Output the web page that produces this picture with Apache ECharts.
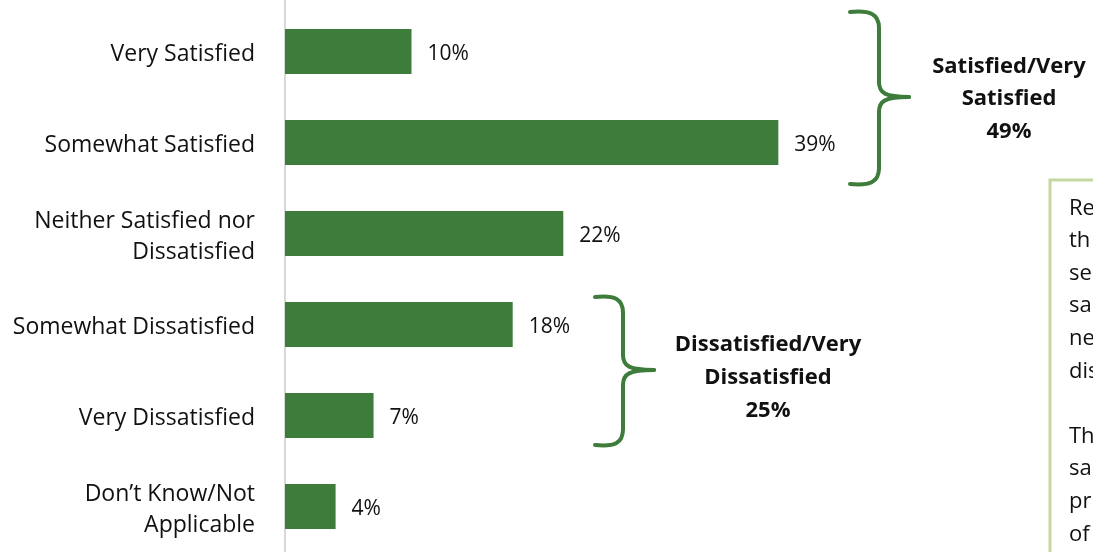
<!DOCTYPE html>
<html><head><meta charset="utf-8">
<script src="https://cdn.jsdelivr.net/npm/echarts@6/dist/echarts.min.js"></script>
<style>html,body{margin:0;padding:0;background:#fff}#c{width:1093px;height:552px}</style>
</head><body><div id="c"></div>
<script>
const categories = ['Very Satisfied', 'Somewhat Satisfied', 'Neither Satisfied nor\nDissatisfied', 'Somewhat Dissatisfied', 'Very Dissatisfied', 'Don\u2019t Know/Not\nApplicable'];
const values = [10, 39, 22, 18, 7, 4];
const groupLabels = ['Satisfied/Very\nSatisfied\n49%', 'Dissatisfied/Very\nDissatisfied\n25%'];
const noteLines = ['Re', 'th', 'se', 'sa', 'ne', 'dis', '', 'Th', 'sa', 'pr', 'of'];

const FONT = 'Open Sans';
const GREEN = '#3d7c3b';

function brace(x0, xv, xt, yTop, yMid, yBot) {
  const st = {stroke: GREEN, lineWidth: 4, fill: null, lineCap: 'round'};
  const r = 16;
  const segs = [
    {type: 'bezierCurve', shape: {x1: x0, y1: yTop, cpx1: x0 + 20, cpy1: yTop - 2, cpx2: xv, cpy2: yTop + 2, x2: xv, y2: yTop + r}},
    {type: 'line', shape: {x1: xv, y1: yTop + r, x2: xv, y2: yMid - r + 1}},
    {type: 'bezierCurve', shape: {x1: xv, y1: yMid - r + 1, cpx1: xv, cpy1: yMid - 4, cpx2: xv + 6, cpy2: yMid, x2: xt, y2: yMid}},
    {type: 'bezierCurve', shape: {x1: xt, y1: yMid, cpx1: xv + 6, cpy1: yMid, cpx2: xv, cpy2: yMid + 4, x2: xv, y2: yMid + r - 1}},
    {type: 'line', shape: {x1: xv, y1: yMid + r - 1, x2: xv, y2: yBot - r}},
    {type: 'bezierCurve', shape: {x1: xv, y1: yBot - r, cpx1: xv, cpy1: yBot - 2, cpx2: x0 + 20, cpy2: yBot + 2, x2: x0, y2: yBot}}
  ];
  return segs.map(s => Object.assign(s, {style: Object.assign({}, st)}));
}

const chart = echarts.init(document.getElementById('c'), null, {renderer: 'canvas'});
chart.setOption({
  animation: false,
  grid: {left: 285, top: 6, height: 549, width: 759, containLabel: false},
  xAxis: {type: 'value', min: 0, max: 60, show: false},
  yAxis: {
    type: 'category', data: categories, inverse: true,
    axisLine: {show: true, lineStyle: {color: '#d9d9d9', width: 2}},
    axisTick: {show: false},
    axisLabel: {
      margin: 30, color: '#111', align: 'right',
      formatter: v => '{p|}\n' + v.split('\n').map(s => '{a|' + s + '}').join('\n'),
      rich: {
        a: {fontFamily: FONT, fontSize: 23, color: '#111', lineHeight: 31, align: 'right'},
        p: {fontSize: 1, lineHeight: 6, align: 'right'}
      }
    }
  },
  series: [{
    type: 'bar', data: values, barWidth: 45,
    itemStyle: {color: GREEN},
    label: {show: true, position: 'right', distance: 16, offset: [0, 3], formatter: '{c}%', fontFamily: FONT, fontSize: 21, color: '#111'}
  }],
  graphic: [].concat(
    [{type: 'line', shape: {x1: 285, y1: 0, x2: 285, y2: 8}, style: {stroke: '#d9d9d9', lineWidth: 2}}],
    brace(850, 879, 909, 12, 97, 184),
    brace(595, 623, 654, 297, 370, 445),
    [
      {type: 'text', x: 1009, y: 50, style: {text: groupLabels[0], fontFamily: FONT, fontWeight: 'bold', fontSize: 22, lineHeight: 32.5, fill: '#111', align: 'center'}},
      {type: 'text', x: 768, y: 328, style: {text: groupLabels[1], fontFamily: FONT, fontWeight: 'bold', fontSize: 22, lineHeight: 33, fill: '#111', align: 'center'}},
      {type: 'rect', shape: {x: 1050, y: 180, width: 80, height: 400}, style: {fill: '#fff', stroke: '#c4d89f', lineWidth: 3}},
      {type: 'text', x: 1069, y: 192, style: {text: noteLines.join('\n'), fontFamily: FONT, fontSize: 22, lineHeight: 32.6, fill: '#111'}}
    ]
  )
});
</script></body></html>
